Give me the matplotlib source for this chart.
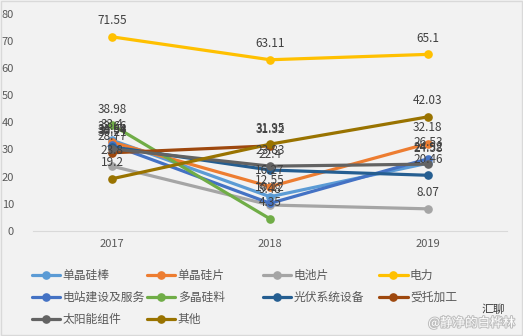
import numpy as np
import matplotlib.pyplot as plt
import matplotlib.patheffects as pe
from matplotlib.patches import Rectangle

plt.rcParams['font.family'] = ['Noto Sans CJK SC', 'DejaVu Sans']

years = ["2017", "2018", "2019"]
names = ["单晶硅棒", "单晶硅片", "电池片", "电力", "电站建设及服务",
         "多晶硅料", "光伏系统设备", "受托加工", "太阳能组件", "其他"]
colors = ["#5B9BD5", "#ED7D31", "#A5A5A5", "#FFC000", "#4472C4",
          "#70AD47", "#255E91", "#9E480E", "#636363", "#997300"]

dj_bang   = [33.4, 12.55, 24.92]
dj_pian   = [32.66, 16.27, 32.18]
dianchi   = [23.8, 9.48, 8.07]
dianli    = [71.55, 63.11, 65.1]
dianzhan  = [31.64, 10.12, 26.53]
duojing   = [38.98, 4.35, np.nan]
guangfu   = [30.94, 22.4, 20.46]
shoutuo   = [28.77, 31.32, np.nan]
zujian    = [30.21, 23.83, 24.58]
qita      = [19.2, 31.95, 42.03]
series = [dj_bang, dj_pian, dianchi, dianli, dianzhan,
          duojing, guangfu, shoutuo, zujian, qita]

txt = "#595959"
fig = plt.figure(figsize=(5.23, 3.36), dpi=100, facecolor="#F2F2F2")
ax = fig.add_axes([0.064, 0.3134, 0.905, 0.6449])
ax.set_facecolor("#F2F2F2")

x = np.arange(len(years))
handles = []
for name, vals, c in zip(names, series, colors):
    h, = ax.plot(x, vals, color=c, lw=2.3, marker="o", ms=5.2, label=name,
                 solid_capstyle="round")
    handles.append(h)

for vals in series:
    for xi, v in zip(x, vals):
        if np.isnan(v):
            continue
        ax.annotate(f"{v:g}", (xi, v), xytext=(0, 11.5), textcoords="offset points",
                    ha="center", va="center", fontsize=8.5, color="#404040")

ax.set_xlim(-0.5, 2.5)
ax.set_ylim(0, 80)
ax.set_yticks(range(0, 81, 10))
ax.set_xticks(x)
ax.set_xticklabels(years)
ax.tick_params(length=0, labelsize=8, colors=txt, pad=6)
ax.tick_params(axis="y", pad=14)
for s in ["top", "right", "left"]:
    ax.spines[s].set_visible(False)
ax.spines["bottom"].set_color("#D9D9D9")

# legend, laid out row by row in four columns
col_x = [0.061, 0.281, 0.503, 0.725]
for j in range(4):
    hs = handles[j::4]
    leg = fig.legend(hs, [h.get_label() for h in hs], loc="upper left",
                     bbox_to_anchor=(col_x[j], 0.2), frameon=False,
                     fontsize=8.5, handlelength=2.4, handletextpad=0.2,
                     labelspacing=0.78, borderpad=0, borderaxespad=0)
    for t in leg.get_texts():
        t.set_color(txt)

fig.text(0.965, 0.08, "汇聊", ha="right", va="center", fontsize=8.5, color="#404040")
fig.text(0.985, 0.04, "@静净的白桦林", ha="right", va="center", fontsize=9,
         color="white", path_effects=[pe.withStroke(linewidth=1.5, foreground="#BFBFBF")])

fig.patches.append(Rectangle((0.001, 0.002), 0.997, 0.995, transform=fig.transFigure,
                             fill=False, edgecolor="#D9D9D9", lw=1))

fig.savefig("out.png", dpi=100, facecolor=fig.get_facecolor())
